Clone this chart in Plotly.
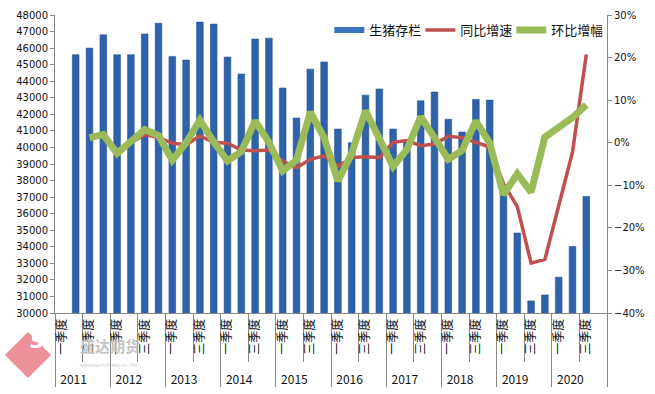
import plotly.graph_objects as go

years = ["2011", "2012", "2013", "2014", "2015", "2016", "2017", "2018", "2019", "2020"]
quarter_labels = ["\u00a0\u00a0一季度", " ", "\u00a0\u00a0三季度", "  "]

# 生猪存栏 (万头), 2011Q1 .. 2020Q4 (None = no data)
stock = [None, 45600, 46000, 46800,
         45600, 45600, 46850, 47500,
         45500, 45280, 47570, 47450,
         45460, 44430, 46550, 46600,
         43590, 41780, 44730, 45160,
         41110, 40280, 43160, 43530,
         41110, 40450, 42820, 43350,
         41700, 40930, 42900, 42860,
         37630, 34830, 30730, 31090,
         32160, 34020, 37040, None]

# 同比增速
yoy = [None, None, None, None,
       None, 0.000, 0.019, 0.012,
       -0.001, -0.005, 0.016, 0.001,
       -0.001, -0.017, -0.019, -0.017,
       -0.043, -0.059, -0.039, -0.031,
       -0.055, -0.035, -0.033, -0.035,
       0.001, 0.005, -0.007, -0.003,
       0.015, 0.012, 0.002, -0.010,
       -0.096, -0.150, -0.283, -0.274,
       -0.148, -0.022, 0.207, None]

# 环比增幅
qoq = [None, None, 0.012, 0.019,
       -0.025, 0.002, 0.031, 0.017,
       -0.041, 0.000, 0.053, 0.002,
       -0.043, -0.021, 0.051, 0.001,
       -0.066, -0.041, 0.072, 0.012,
       -0.090, -0.025, 0.075, 0.010,
       -0.056, -0.016, 0.061, 0.012,
       -0.039, -0.018, 0.051, -0.001,
       -0.122, -0.073, -0.116, 0.013,
       0.036, 0.059, 0.089, None]

x_year = [y for y in years for _ in quarter_labels]
x_q = [q for _ in years for q in quarter_labels]
x = [x_year, x_q]

BLUE = "#2E63AB"
RED = "#C0504D"
GREEN = "#9BBB59"
AX = "#898989"

fig = go.Figure()
fig.add_trace(go.Bar(x=x, y=stock, name="生猪存栏", width=0.48,
                     marker=dict(color=BLUE, line=dict(color="#24508C", width=0.6)),
                     showlegend=False))
# legend proxy for bar series
fig.add_trace(go.Scatter(x=[x_year[:1], x_q[:1]], y=[None], name="生猪存栏", mode="lines",
                         line=dict(color="#3A74C0", width=6)))
fig.add_trace(go.Scatter(x=x, y=yoy, name="同比增速", yaxis="y2", mode="lines",
                         line=dict(color=RED, width=3.5), connectgaps=False))
fig.add_trace(go.Scatter(x=x, y=qoq, name="环比增幅", yaxis="y2", mode="lines",
                         line=dict(color=GREEN, width=7), connectgaps=False))

fig.update_layout(
    width=655, height=394,
    margin=dict(l=55, r=48, t=15, b=81, autoexpand=False),
    paper_bgcolor="white", plot_bgcolor="white",
    font=dict(family="DejaVu Sans", size=10, color="#222222"),
    showlegend=True,
    legend=dict(orientation="h", x=0.497, y=1.0, xanchor="left", yanchor="top",
                font=dict(family="Noto Sans CJK SC", size=13, color="#111111"),
                bgcolor="rgba(255,255,255,0)", itemwidth=30, tracegroupgap=0,
                entrywidth=46, entrywidthmode="pixels"),
    xaxis=dict(type="multicategory", showline=True, linecolor=AX, linewidth=1,
               ticks="outside", ticklen=48, tickcolor=AX, automargin=False,
               tickangle=-90, showgrid=False, showdividers=True,
               dividercolor=AX, dividerwidth=1,
               tickfont=dict(family="Noto Sans CJK SC", size=12, color="#111111")),
    yaxis=dict(range=[30000, 48000], dtick=1000, showline=True, linecolor=AX,
               ticks="outside", ticklen=4, tickcolor=AX, showgrid=False,
               zeroline=False, tickformat="d", automargin=False,
               tickfont=dict(family="DejaVu Sans", size=10, color="#111111")),
    yaxis2=dict(range=[-0.4, 0.3], dtick=0.1, overlaying="y", side="right",
                showline=True, linecolor=AX, ticks="outside", ticklen=4, tickcolor=AX,
                showgrid=False, zeroline=False, tickformat=".0%", automargin=False,
                tickfont=dict(family="DejaVu Sans", size=10, color="#111111")),
)

# watermark logo (bottom-left)
def px(xp):
    return (xp - 55) / 552
def py(yp):
    return (313 - yp) / 298

fig.add_shape(type="path", xref="paper", yref="paper",
              path=f"M{px(28)},{py(334)} L{px(49)},{py(355)} L{px(28)},{py(376)} L{px(7)},{py(355)} Z",
              fillcolor="#EA878D", line=dict(color="#EA878D", width=3), opacity=0.9, layer="above")
fig.add_annotation(xref="paper", yref="paper", x=px(28), y=py(355), text="<b><i>S</i></b>",
                   showarrow=False, font=dict(family="DejaVu Sans", size=20, color="white"))
fig.add_annotation(xref="paper", yref="paper", x=px(78), y=py(358), text="<b>盛达期货</b>",
                   showarrow=False, font=dict(family="Noto Sans CJK SC", size=15, color="#C4C4C4"))
fig.add_annotation(xref="paper", yref="paper", x=px(78), y=py(370), text="SHENGDA FUTURES CO.,LTD",
                   showarrow=False, font=dict(family="DejaVu Sans", size=4, color="#C4C4C4"))

fig.write_html("out.html", config={"displayModeBar": False},
               post_script="document.body.style.margin='0';document.body.style.padding='0';")
